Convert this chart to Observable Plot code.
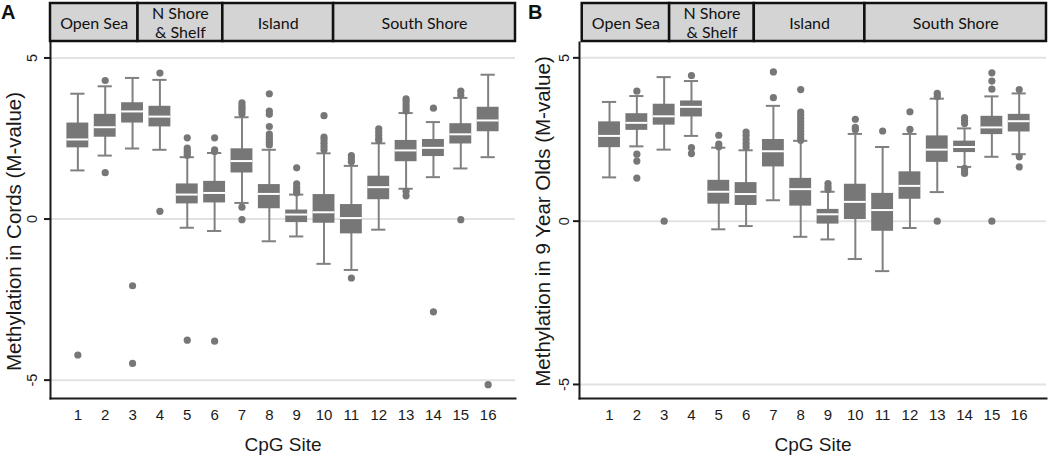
<!DOCTYPE html>
<html>
<head>
<meta charset="utf-8">
<script src="https://cdn.jsdelivr.net/npm/d3@7"></script>
<script src="https://cdn.jsdelivr.net/npm/@observablehq/plot@0.6"></script>
<style>
  body { margin: 0; background: #fff; }
  #wrap { position: relative; width: 1050px; height: 456px; overflow: hidden; font-family: "Liberation Sans", Arial, sans-serif; }
  .panel { position: absolute; top: 0; width: 525px; height: 456px; }
  .panel svg { position: absolute; left: 0; top: 0; }
  .letter { position: absolute; top: 2px; font-weight: bold; font-size: 20px; line-height: 20px; color: #111; }
</style>
</head>
<body>
<div id="wrap"></div>
<script>
const sites = d3.range(1, 17);
const yTicks = [-5, 0, 5];
const regionNames = ["Open Sea", "N Shore\n& Shelf", "Island", "South Shore"];
const regionBounds = [0, 3.2, 6.3, 10.35, 17];

// Panel A: cords
const cordsHigh = [3.89, 4.12, 4.38, 4.32, 1.92, 2.05, 3.16, 2.15, 0.76, 2.04, 1.65, 2.35, 3.29, 3.01, 3.76, 4.48];
const cordsQ3   = [2.98, 3.25, 3.61, 3.50, 1.09, 1.17, 2.18, 1.07, 0.28, 0.76, 0.45, 1.33, 2.44, 2.47, 2.96, 3.47];
const cordsMed  = [2.47, 2.85, 3.34, 3.18, 0.76, 0.81, 1.80, 0.78, 0.14, 0.21, 0.03, 0.99, 2.13, 2.21, 2.63, 3.06];
const cordsQ1   = [2.21, 2.54, 2.98, 2.86, 0.47, 0.50, 1.43, 0.32, -0.11, -0.13, -0.46, 0.60, 1.78, 1.94, 2.33, 2.71];
const cordsLow  = [1.51, 1.97, 2.19, 2.15, -0.27, -0.37, 0.50, -0.69, -0.54, -1.39, -1.58, -0.33, 0.94, 1.30, 1.57, 1.92];
const cordsOutliers = [
  [1, -4.22],
  [2, 4.30], [2, 1.44],
  [3, -2.07], [3, -4.48],
  [4, 4.53], [4, 0.24],
  [5, 2.52], [5, 2.20], [5, 2.12], [5, 2.05], [5, 1.98], [5, -3.76],
  [6, 2.52], [6, 2.15], [6, 2.10], [6, -3.79],
  [7, 3.61], [7, 3.52], [7, 3.44], [7, 3.36], [7, 3.27], [7, 0.37], [7, -0.02],
  [8, 3.89], [8, 3.35], [8, 3.25], [8, 2.87], [8, 2.64], [8, 2.55], [8, 2.47], [8, 2.38], [8, 2.30],
  [9, 1.59], [9, 1.09], [9, 0.98], [9, 0.88], [9, 0.82],
  [10, 3.21], [10, 2.54], [10, 2.45], [10, 2.35], [10, 2.25], [10, 2.15],
  [11, 1.97], [11, 1.88], [11, 1.78], [11, -1.83],
  [12, 2.80], [12, 2.70], [12, 2.60], [12, 2.50], [12, 2.44],
  [13, 3.73], [13, 3.65], [13, 3.55], [13, 3.45], [13, 3.35], [13, 0.86], [13, 0.72],
  [14, 3.44], [14, -2.88],
  [15, 3.97], [15, 3.85], [15, -0.02],
  [16, -5.14]
];

// Panel B: 9 year olds
const nineHigh = [3.65, 3.83, 4.41, 4.29, 2.25, 2.17, 3.53, 2.46, 0.90, 2.67, 2.27, 2.67, 3.75, 2.84, 3.82, 3.91];
const nineQ3   = [3.04, 3.29, 3.58, 3.68, 1.25, 1.18, 2.50, 1.31, 0.36, 1.13, 0.85, 1.51, 2.61, 2.45, 3.21, 3.27];
const nineMed  = [2.61, 3.01, 3.21, 3.50, 0.90, 0.83, 2.14, 0.98, 0.21, 0.59, 0.34, 1.08, 2.19, 2.27, 2.87, 3.06];
const nineQ1   = [2.25, 2.78, 2.94, 3.19, 0.52, 0.48, 1.66, 0.46, -0.09, 0.05, -0.31, 0.67, 1.80, 2.10, 2.65, 2.73];
const nineLow  = [1.34, 2.29, 2.19, 2.61, -0.25, -0.15, 0.64, -0.48, -0.56, -1.16, -1.53, -0.21, 0.89, 1.66, 1.97, 2.05];
const nineOutliers = [
  [2, 3.98], [2, 2.05], [2, 1.84], [2, 1.32],
  [3, 0],
  [4, 4.46], [4, 2.25], [4, 2.07],
  [5, 2.63], [5, 2.36], [5, 2.28],
  [6, 2.73], [6, 2.62], [6, 2.50], [6, 2.38], [6, 2.27],
  [7, 4.57], [7, 3.78],
  [8, 4.03], [8, 3.34], [8, 3.25], [8, 3.15], [8, 3.05], [8, 2.95], [8, 2.85], [8, 2.75], [8, 2.65], [8, 2.55], [8, 2.48],
  [9, 1.15], [9, 1.05], [9, 0.97],
  [10, 3.12], [10, 2.87], [10, 2.80],
  [11, 2.76],
  [12, 3.35], [12, 2.81],
  [13, 3.91], [13, 3.82], [13, 0],
  [14, 3.17], [14, 3.08], [14, 2.99], [14, 1.62], [14, 1.54], [14, 1.46],
  [15, 4.54], [15, 4.29], [15, 4.04], [15, 0],
  [16, 4.03], [16, 1.97], [16, 1.66]
];

const FONT = "'Liberation Sans', Arial, sans-serif";
const BOX = "#777777", WHISK = "#808080", GRID = "#e2e2e2", INK = "#1a1a1a";
const BOXHALF = 0.4, CAPHALF = 0.26;

function rowsOf(lo, q1, med, q3, hi) {
  return sites.map((s, i) => ({site: s, lo: lo[i], q1: q1[i], med: med[i], q3: q3[i], hi: hi[i]}));
}

function makePanel(cfg) {
  const W = 525, H = 456;
  const rows = rowsOf(cfg.lo, cfg.q1, cfg.med, cfg.q3, cfg.hi);
  const main = Plot.plot({
    width: W, height: H,
    marginTop: 42, marginBottom: 58, marginLeft: cfg.marginLeft, marginRight: cfg.marginRight,
    style: {background: "transparent", fontFamily: FONT, overflow: "visible", color: INK},
    x: {domain: cfg.xDomain},
    y: {domain: cfg.yDomain},
    marks: [
      Plot.ruleY(yTicks, {stroke: GRID, strokeWidth: 2}),
      Plot.ruleX(rows, {x: "site", y1: "lo", y2: "hi", stroke: WHISK, strokeWidth: 2}),
      Plot.ruleY(rows, {y: "hi", x1: d => d.site - CAPHALF, x2: d => d.site + CAPHALF, stroke: WHISK, strokeWidth: 2}),
      Plot.ruleY(rows, {y: "lo", x1: d => d.site - CAPHALF, x2: d => d.site + CAPHALF, stroke: WHISK, strokeWidth: 2}),
      Plot.rect(rows, {x1: d => d.site - BOXHALF, x2: d => d.site + BOXHALF, y1: "q1", y2: "q3", fill: BOX}),
      Plot.ruleY(rows, {y: "med", x1: d => d.site - BOXHALF, x2: d => d.site + BOXHALF, stroke: "white", strokeWidth: 2}),
      Plot.dot(cfg.outliers, {x: d => d[0], y: d => d[1], r: 3.6, fill: BOX}),
      Plot.axisY({ticks: yTicks, tickSize: 6, tickFormat: () => "", stroke: INK, strokeWidth: 2, label: null}),
      Plot.text(yTicks, {y: d => d, text: d => String(d), frameAnchor: "left", textAnchor: "middle", lineAnchor: "middle", dx: cfg.tickDx, rotate: -90, fontSize: 14.5, fill: INK}),
      Plot.axisX({ticks: sites, tickSize: 0, tickPadding: 11, fontSize: 15, fontFamily: FONT, label: null, tickFormat: d => String(d), fill: INK}),
      Plot.frame({anchor: "left", stroke: INK, strokeWidth: 2}),
      Plot.frame({anchor: "bottom", stroke: INK, strokeWidth: 2}),
      Plot.text([cfg.title], {text: d => d, frameAnchor: "left", textAnchor: "middle", lineAnchor: "middle", dx: cfg.titleDx, dy: cfg.titleDy, rotate: -90, fontSize: 20.5, fill: INK}),
      Plot.text(["CpG Site"], {text: d => d, frameAnchor: "bottom", textAnchor: "middle", lineAnchor: "middle", dy: 46, fontSize: 19, fill: INK})
    ]
  });
  const regions = regionNames.map((name, i) => ({name, x1: regionBounds[i], x2: regionBounds[i + 1]}));
  const header = Plot.plot({
    width: W, height: 42,
    marginTop: 3, marginBottom: 1, marginLeft: cfg.marginLeft, marginRight: cfg.marginRight,
    style: {background: "transparent", overflow: "visible"},
    x: {domain: cfg.xDomain, axis: null},
    y: {domain: [0, 1], axis: null},
    marks: [
      Plot.rect(regions, {x1: "x1", x2: "x2", y1: 0, y2: 1, fill: "#d4d4d4", stroke: "#111", strokeWidth: 2.5}),
      Plot.text(regions, {x: d => (d.x1 + d.x2) / 2, y: 0.5, text: "name", fontSize: 16, fontFamily: "Lato", lineHeight: 1.2, fill: "#111"})
    ]
  });
  const div = document.createElement("div");
  div.className = "panel";
  div.style.left = cfg.left + "px";
  div.appendChild(main);
  div.appendChild(header);
  const letter = document.createElement("div");
  letter.className = "letter";
  letter.textContent = cfg.letter;
  letter.style.left = cfg.letterX + "px";
  div.appendChild(letter);
  document.getElementById("wrap").appendChild(div);
}

makePanel({
  left: 0, letter: "A", letterX: 1,
  lo: cordsLow, q1: cordsQ1, med: cordsMed, q3: cordsQ3, hi: cordsHigh, outliers: cordsOutliers,
  xDomain: [0, 17], yDomain: [-5.57, 5.48], marginLeft: 50, marginRight: 10,
  title: "Methylation in Cords (M-value)", titleDx: -36, titleDy: 11, tickDx: -18.6
});
makePanel({
  left: 525, letter: "B", letterX: 3,
  lo: nineLow, q1: nineQ1, med: nineMed, q3: nineQ3, hi: nineHigh, outliers: nineOutliers,
  xDomain: [-0.1, 17], yDomain: [-5.43, 5.47], marginLeft: 54, marginRight: 4,
  title: "Methylation in 9 Year Olds (M-value)", titleDx: -36, titleDy: 1, tickDx: -15.6
});
</script>
</body>
</html>
